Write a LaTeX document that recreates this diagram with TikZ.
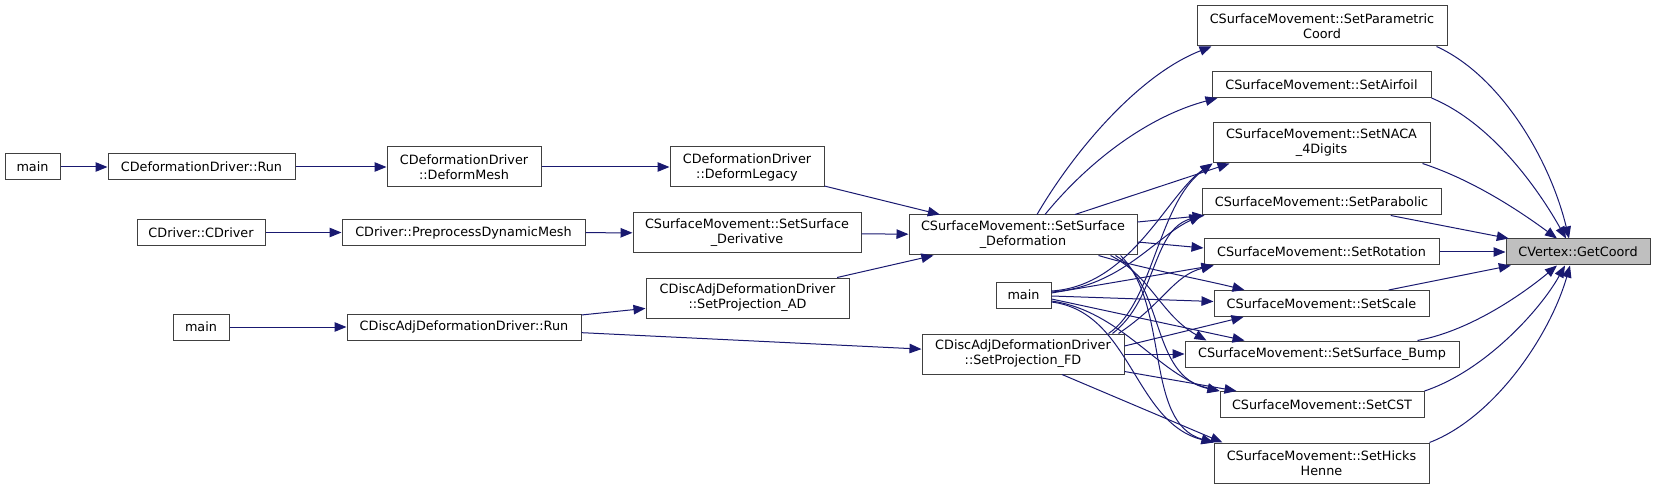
\documentclass[tikz,border=0pt]{standalone}
\usepackage{fontspec}
\setmainfont{DejaVu Sans}
\usetikzlibrary{arrows.meta,calc}
\definecolor{edgec}{HTML}{191970}
\definecolor{boxc}{HTML}{404040}
\definecolor{gcfill}{HTML}{BFBFBF}
\begin{document}
\begin{tikzpicture}[x=1pt,y=-1pt,
  fn/.style={draw=boxc, line width=1pt, fill=white, inner sep=0pt, align=center,
    font=\fontsize{12.8}{15}\selectfont, text=black},
  e/.style={draw=edgec, line width=1pt, -{Triangle[length=12pt,width=9.5pt]}, edgec}]
\useasboundingbox (0,0) rectangle (1655,489);
% left part
\node[fn, minimum width=55pt, minimum height=26pt] (main1) at (32.5,167) {main};
\node[fn, minimum width=187pt, minimum height=26pt] (run1) at (201.5,167) {CDeformationDriver::Run};
\node[fn, minimum width=154pt, minimum height=40pt] (dmesh) at (464,167) {CDeformationDriver\\::DeformMesh};
\node[fn, minimum width=154pt, minimum height=40pt] (dleg) at (747,167) {CDeformationDriver\\::DeformLegacy};
\node[fn, minimum width=128pt, minimum height=26pt] (cdrv) at (201,232.5) {CDriver::CDriver};
\node[fn, minimum width=243pt, minimum height=26pt] (prep) at (463.5,232.5) {CDriver::PreprocessDynamicMesh};
\node[fn, minimum width=228pt, minimum height=40pt] (deriv) at (747,233) {CSurfaceMovement::SetSurface\\\_Derivative};
\node[fn, minimum width=56pt, minimum height=26pt] (main2) at (201,327) {main};
\node[fn, minimum width=234pt, minimum height=26pt] (run2) at (464,327) {CDiscAdjDeformationDriver::Run};
\node[fn, minimum width=203pt, minimum height=40pt] (ad) at (747.5,298) {CDiscAdjDeformationDriver\\::SetProjection\_AD};
% middle
\node[fn, minimum width=228pt, minimum height=40pt] (def) at (1023,235) {CSurfaceMovement::SetSurface\\\_Deformation};
\node[fn, minimum width=55pt, minimum height=26pt] (main3) at (1023.5,295) {main};
\node[fn, minimum width=202pt, minimum height=40pt] (fd) at (1023,354) {CDiscAdjDeformationDriver\\::SetProjection\_FD};
% right column
\node[fn, minimum width=250pt, minimum height=40pt] (pc) at (1322,26) {CSurfaceMovement::SetParametric\\Coord};
\node[fn, minimum width=219pt, minimum height=26pt] (air) at (1321.5,84.5) {CSurfaceMovement::SetAirfoil};
\node[fn, minimum width=217pt, minimum height=40pt] (naca) at (1321.5,143) {CSurfaceMovement::SetNACA\\\_4Digits};
\node[fn, minimum width=239pt, minimum height=26pt] (para) at (1321.5,202) {CSurfaceMovement::SetParabolic};
\node[fn, minimum width=235pt, minimum height=26pt] (rot) at (1321.5,252) {CSurfaceMovement::SetRotation};
\node[fn, minimum width=215pt, minimum height=26pt] (scale) at (1321.5,303.5) {CSurfaceMovement::SetScale};
\node[fn, minimum width=274pt, minimum height=26pt] (bump) at (1322,354) {CSurfaceMovement::SetSurface\_Bump};
\node[fn, minimum width=204pt, minimum height=26pt] (cst) at (1322,404.5) {CSurfaceMovement::SetCST};
\node[fn, minimum width=215pt, minimum height=40pt] (hh) at (1321.5,463) {CSurfaceMovement::SetHicks\\Henne};
\node[fn, fill=gcfill, minimum width=144pt, minimum height=26pt] (gc) at (1578,252) {CVertex::GetCoord};
% left edges
\draw[e] (main1) -- (run1);
\draw[e] (run1) -- (dmesh);
\draw[e] (dmesh) -- (dleg);
\draw[e] (dleg) -- (def);
\draw[e] (cdrv) -- (prep);
\draw[e] (prep) -- (deriv);
\draw[e] (deriv) -- (def);
\draw[e] (main2) -- (run2);
\draw[e] (run2) -- (ad);
\draw[e] (run2) -- (fd);
\draw[e] (ad) -- (def);
% SetSurface_Deformation edges
\draw[e] ($(def.north)+(14,0)$) .. controls +(38,-65) and +(-72,28) .. ($(pc.south west)+(15,0)$);
\draw[e] ($(def.north)+(22,0)$) .. controls +(45,-55) and +(-68,18) .. ($(air.south west)+(6,0)$);
\draw[e] ($(def.north)+(52,0)$) -- ($(naca.south west)+(17,0)$);
\draw[e] ($(def.east)+(0,-13)$) -- ($(para.south west)+(3,0)$);
\draw[e] ($(def.east)+(0,7)$) -- ($(rot.west)+(0,-4)$);
\draw[e] ($(def.south east)+(-39,0)$) .. controls +(40,12) and +(-40,-10) .. ($(scale.north west)+(31,0)$);
\draw[e] ($(def.south east)+(-27,0)$) .. controls +(40,20) and +(-45,-25) .. ($(bump.north west)+(22,0)$);
\draw[e] ($(def.south east)+(-22,0)$) .. controls +(50,30) and +(-70,-15) .. (cst.north west);
\draw[e] ($(def.south east)+(-17,0)$) .. controls +(50,50) and +(-70,-20) .. (hh.north west);
% main edges
\draw[e] ($(main3.east)+(0,-4)$) .. controls +(80,-5) and +(-45,30) .. (naca.south west);
\draw[e] ($(main3.east)+(0,-3)$) .. controls +(70,-5) and +(-45,20) .. (para.south west);
\draw[e] ($(main3.east)+(0,-2)$) -- ($(rot.south west)+(10,0)$);
\draw[e] ($(main3.east)+(0,1)$) -- ($(scale.west)+(0,-2)$);
\draw[e] ($(main3.east)+(0,4)$) -- ($(bump.north west)+(60,0)$);
\draw[e] ($(main3.east)+(0,6)$) .. controls +(70,10) and +(-60,-15) .. (cst.north west);
\draw[e] ($(main3.east)+(0,7)$) .. controls +(80,10) and +(-80,-20) .. (hh.north west);
% SetProjection_FD edges
\draw[e] ($(fd.north east)+(-16,0)$) .. controls +(45,-30) and +(-55,40) .. (naca.south west);
\draw[e] ($(fd.north east)+(-12,0)$) .. controls +(45,-35) and +(-50,15) .. (para.south west);
\draw[e] ($(fd.north east)+(-6,0)$) .. controls +(45,-30) and +(-40,10) .. ($(rot.south west)+(10,0)$);
\draw[e] ($(fd.east)+(0,-8)$) -- ($(scale.south west)+(30,0)$);
\draw[e] (fd.east) -- (bump.west);
\draw[e] ($(fd.south east)+(0,-3)$) -- ($(cst.north west)+(17,0)$);
\draw[e] ($(fd.south)+(39,0)$) -- ($(hh.north west)+(9,0)$);
% to GetCoord
\draw[e] ($(pc.south east)+(-11,0)$) .. controls +(64,29) and +(-19,-79) .. ($(gc.north)+(-9,0)$);
\draw[e] (air.south east) .. controls +(60,25) and +(-28,-50) .. ($(gc.north)+(-12,0)$);
\draw[e] ($(naca.south east)+(-8,0)$) .. controls +(55,18) and +(-30,-22) .. ($(gc.north)+(-21,0)$);
\draw[e] (para) -- (gc);
\draw[e] (rot) -- (gc);
\draw[e] (scale) -- (gc);
\draw[e] ($(bump.north east)+(-42,0)$) .. controls +(55,-10) and +(-30,25) .. ($(gc.south)+(-21,0)$);
\draw[e] (cst.north east) .. controls +(60,-20) and +(-25,45) .. ($(gc.south)+(-13,0)$);
\draw[e] (hh.north east) .. controls +(65,-25) and +(-20,70) .. ($(gc.south)+(-8,0)$);
\end{tikzpicture}
\end{document}
